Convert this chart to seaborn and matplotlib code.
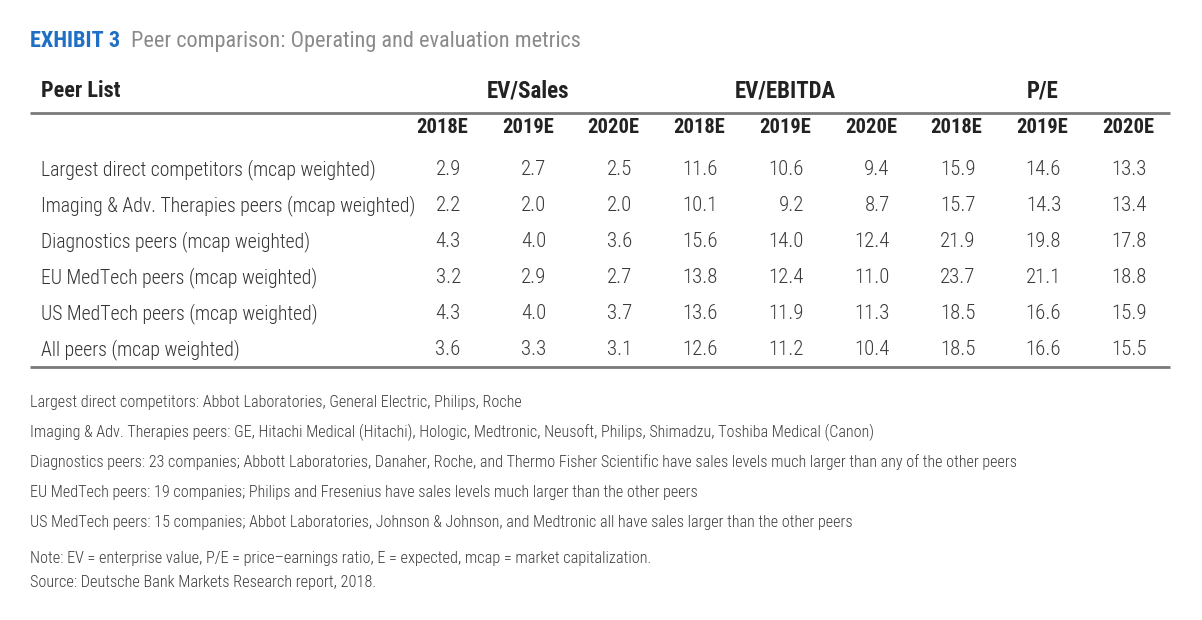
import numpy as np
import pandas as pd
import seaborn as sns
import matplotlib.pyplot as plt
from matplotlib.colors import ListedColormap
from matplotlib.transforms import blended_transform_factory

# ---- data ----
peers = [
    "Largest direct competitors (mcap weighted)",
    "Imaging & Adv. Therapies peers (mcap weighted)",
    "Diagnostics peers (mcap weighted)",
    "EU MedTech peers (mcap weighted)",
    "US MedTech peers (mcap weighted)",
    "All peers (mcap weighted)",
]
metrics = ["EV/Sales", "EV/EBITDA", "P/E"]
years = ["2018E", "2019E", "2020E"]

ev_sales = [[2.9, 2.7, 2.5], [2.2, 2.0, 2.0], [4.3, 4.0, 3.6],
            [3.2, 2.9, 2.7], [4.3, 4.0, 3.7], [3.6, 3.3, 3.1]]
ev_ebitda = [[11.6, 10.6, 9.4], [10.1, 9.2, 8.7], [15.6, 14.0, 12.4],
             [13.8, 12.4, 11.0], [13.6, 11.9, 11.3], [12.6, 11.2, 10.4]]
pe = [[15.9, 14.6, 13.3], [15.7, 14.3, 13.4], [21.9, 19.8, 17.8],
      [23.7, 21.1, 18.8], [18.5, 16.6, 15.9], [18.5, 16.6, 15.5]]

footnotes = [
    "Largest direct competitors: Abbot Laboratories, General Electric, Philips, Roche",
    "Imaging & Adv. Therapies peers: GE, Hitachi Medical (Hitachi), Hologic, Medtronic, Neusoft, Philips, Shimadzu, Toshiba Medical (Canon)",
    "Diagnostics peers: 23 companies; Abbott Laboratories, Danaher, Roche, and Thermo Fisher Scientific have sales levels much larger than any of the other peers",
    "EU MedTech peers: 19 companies; Philips and Fresenius have sales levels much larger than the other peers",
    "US MedTech peers: 15 companies; Abbot Laboratories, Johnson & Johnson, and Medtronic all have sales larger than the other peers",
]
note = "Note: EV = enterprise value, P/E = price\u2013earnings ratio, E = expected, mcap = market capitalization."
source = "Source: Deutsche Bank Markets Research report, 2018."

cols = pd.MultiIndex.from_product([metrics, years])
df = pd.DataFrame(np.hstack([ev_sales, ev_ebitda, pe]), index=peers, columns=cols)

# ---- style ----
sns.set_style("white")
plt.rcParams["font.family"] = ["Roboto Condensed", "DejaVu Sans"]
plt.rcParams["font.weight"] = 300

W, H = 1202, 620
fig = plt.figure(figsize=(W / 100, H / 100), dpi=100)
fig.patch.set_facecolor("white")

# table body: heatmap with plain white cells
hm = fig.add_axes([399 / W, 1 - 368 / H, 772 / W, 217 / H])
sns.heatmap(df, ax=hm, cmap=ListedColormap(["white"]), cbar=False,
            annot=True, fmt=".1f", linewidths=0,
            annot_kws={"fontsize": 15, "color": "#3a3a3a", "fontweight": 300},
            xticklabels=[c[1] for c in df.columns], yticklabels=peers)
hm.set_axisbelow(False)
for t in hm.texts:
    x, y = t.get_position()
    t.set_position((x + 0.22, y))
    t.set_ha("right")

hm.xaxis.tick_top()
hm.set_xlabel("")
hm.set_ylabel("")
hm.tick_params(axis="x", length=0, pad=10, labelsize=14.8, labelcolor="#222222")
for lab in hm.get_xticklabels():
    lab.set_fontweight("bold")
    lab.set_rotation(0)
hm.tick_params(axis="y", length=0, pad=(399 - 41) * 0.72, labelsize=14.2, labelcolor="#333333")
for lab in hm.get_yticklabels():
    lab.set_ha("left")
    lab.set_rotation(0)
    lab.set_fontweight(300)
for s in hm.spines.values():
    s.set_visible(False)

# overlay in pixel coords
ov = fig.add_axes([0, 0, 1, 1])
ov.set_xlim(0, W)
ov.set_ylim(H, 0)
ov.axis("off")

t1 = ov.text(30, 41, "EXHIBIT 3", fontsize=16, fontweight="bold", color="#1f6fc5", va="center")
fig.canvas.draw()
bb = t1.get_window_extent()
ov.text(bb.x1 + 11, 41, "Peer comparison: Operating and evaluation metrics", fontsize=16,
        fontweight="normal", color="#8a8a8a", va="center")

ov.text(41, 91, "Peer List", fontsize=16, fontweight="bold", color="#222222", va="center")
tr = blended_transform_factory(hm.transData, ov.transData)
for i, m in enumerate(metrics):
    ov.text(i * 3 + 1.5, 91, m, transform=tr, fontsize=16.5, fontweight="bold",
            color="#222222", ha="center", va="center")

ov.plot([30, 1170], [113, 113], color="#7a7a7a", lw=2, solid_capstyle="butt")
ov.plot([30, 1170], [367, 367], color="#7a7a7a", lw=2, solid_capstyle="butt")

for i, f in enumerate(footnotes):
    ov.text(30, 402 + i * 30, f, fontsize=11.6, color="#3c3c3c", va="center")
ov.text(30, 559, note, fontsize=11.7, color="#3c3c3c", va="center")
ov.text(30, 582, source, fontsize=11.7, color="#3c3c3c", va="center")

fig.savefig("out.png", dpi=100, facecolor="white")
